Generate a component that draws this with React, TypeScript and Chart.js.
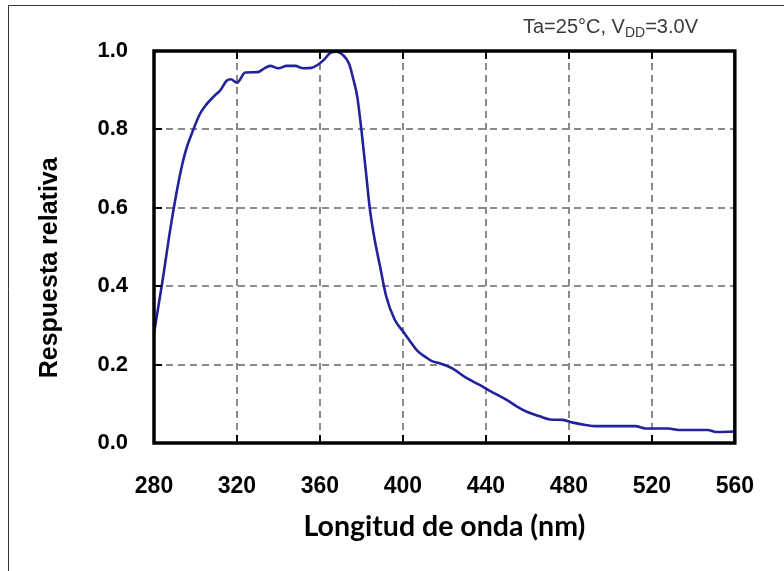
import React, { useEffect, useRef } from "react";
import { Chart, registerables } from "chart.js";

Chart.register(...registerables);

// Wavelength (nm) and relative response
const wavelengthNm = [
  280, 284, 288, 292, 295, 299, 302, 305, 309, 312, 315, 317, 320, 324, 330, 333, 336, 340, 344,
  348, 352, 356, 359, 362, 365, 368, 371, 374, 376, 378, 380, 382, 384, 386, 389, 392, 396,
  400, 403, 407, 411, 414, 418, 424, 430, 437, 443, 450, 455, 460, 466, 471, 477, 482, 488,
  493, 500, 512, 517, 528, 533, 547, 551, 560,
];
const relativeResponse = [
  0.28, 0.41, 0.55, 0.67, 0.74, 0.8, 0.838, 0.862, 0.885, 0.9, 0.924, 0.928, 0.919, 0.945, 0.946,
  0.955, 0.962, 0.956, 0.962, 0.962, 0.956, 0.957, 0.965, 0.978, 0.995, 0.998, 0.99, 0.968,
  0.93, 0.883, 0.798, 0.7, 0.6, 0.53, 0.45, 0.373, 0.315, 0.285, 0.263, 0.235, 0.219, 0.209,
  0.203, 0.19, 0.168, 0.148, 0.13, 0.11, 0.093, 0.079, 0.068, 0.06, 0.059, 0.052, 0.046,
  0.043, 0.043, 0.043, 0.037, 0.037, 0.033, 0.033, 0.028, 0.029,
];
const xTickValues = [280, 320, 360, 400, 440, 480, 520, 560];
const yTickValues = [0, 0.2, 0.4, 0.6, 0.8, 1.0];
const xAxisTitle = "Longitud de onda (nm)";
const yAxisTitle = "Respuesta relativa";
const conditionParts = ["Ta=25°C, V", "DD", "=3.0V"];

const ARIAL = "'Liberation Sans', Arial, sans-serif";

export default function App() {
  const canvasRef = useRef<HTMLCanvasElement>(null);

  useEffect(() => {
    const canvas = canvasRef.current;
    if (!canvas) return;

    const framePlugin = {
      id: "framePlugin",
      afterDraw(chart: any) {
        const { ctx, chartArea, scales } = chart;
        const { left, right, top, bottom } = chartArea;
        const xs = scales.x;
        const ys = scales.y;
        ctx.save();
        // outer picture border (left and top)
        ctx.strokeStyle = "#333";
        ctx.lineWidth = 1;
        ctx.beginPath();
        ctx.moveTo(8.5, 600);
        ctx.lineTo(8.5, 5.5);
        ctx.lineTo(800, 5.5);
        ctx.stroke();
        // inward tick marks
        ctx.strokeStyle = "#000";
        ctx.lineWidth = 2;
        ctx.beginPath();
        xTickValues.slice(1, -1).forEach((v) => {
          const px = Math.round(xs.getPixelForValue(v));
          ctx.moveTo(px, bottom);
          ctx.lineTo(px, bottom - 8);
          ctx.moveTo(px, top);
          ctx.lineTo(px, top + 8);
        });
        yTickValues.slice(1, -1).forEach((v) => {
          const py = Math.round(ys.getPixelForValue(v));
          ctx.moveTo(left, py);
          ctx.lineTo(left + 8, py);
        });
        ctx.stroke();
        // plot frame
        ctx.lineWidth = 3.5;
        ctx.strokeRect(left, top, right - left, bottom - top);
        // condition annotation
        ctx.fillStyle = "#3a3a3a";
        ctx.textBaseline = "alphabetic";
        ctx.textAlign = "left";
        let tx = 523;
        const ty = 33;
        ctx.font = `20px ${ARIAL}`;
        ctx.fillText(conditionParts[0], tx, ty);
        tx += ctx.measureText(conditionParts[0]).width;
        ctx.font = `14px ${ARIAL}`;
        ctx.fillText(conditionParts[1], tx, ty + 4);
        tx += ctx.measureText(conditionParts[1]).width;
        ctx.font = `20px ${ARIAL}`;
        ctx.fillText(conditionParts[2], tx, ty);
        ctx.restore();
      },
    };

    const chart = new Chart(canvas, {
      type: "line",
      data: {
        datasets: [
          {
            data: wavelengthNm.map((x, i) => ({ x, y: relativeResponse[i] })),
            borderColor: "#22229a",
            borderWidth: 2.6,
            pointRadius: 0,
            cubicInterpolationMode: "monotone",
            fill: false,
          },
        ],
      },
      options: {
        animation: false,
        responsive: false,
        maintainAspectRatio: false,
        layout: { padding: { top: 51, right: 47, left: 0, bottom: 0 } },
        plugins: { legend: { display: false }, tooltip: { enabled: false } },
        scales: {
          x: {
            type: "linear",
            min: 280,
            max: 560,
            afterBuildTicks: (scale: any) => {
              scale.ticks = xTickValues.map((value) => ({ value }));
            },
            afterFit: (scale: any) => {
              scale.height = 128;
            },
            ticks: {
              padding: 30,
              color: "#000",
              font: { family: ARIAL, weight: "bold", size: 23 },
              maxRotation: 0,
              autoSkip: false,
              callback: (v: any) => String(v),
            },
            grid: {
              drawTicks: false,
              color: "#8a8a8a",
              lineWidth: 2,
            },
            border: { display: false, dash: [7, 5] },
            title: {
              display: true,
              text: xAxisTitle,
              color: "#000",
              font: { family: "Lato, 'Open Sans', sans-serif", weight: "bold", size: 28.5 },
              padding: { top: 0, bottom: 27 },
            },
          },
          y: {
            type: "linear",
            min: 0,
            max: 1,
            afterBuildTicks: (scale: any) => {
              scale.ticks = yTickValues.map((value) => ({ value }));
            },
            afterFit: (scale: any) => {
              scale.width = 154;
            },
            ticks: {
              padding: 26,
              color: "#000",
              font: { family: ARIAL, weight: "bold", size: 22 },
              callback: (v: any) => Number(v).toFixed(1),
            },
            grid: {
              drawTicks: false,
              color: "#8a8a8a",
              lineWidth: 2,
            },
            border: { display: false, dash: [7, 5] },
            title: {
              display: true,
              text: yAxisTitle + "      ",
              color: "#000",
              font: { family: ARIAL, weight: "bold", size: 25 },
              padding: { top: 35, bottom: 0 },
            },
          },
        },
      },
      plugins: [framePlugin],
    } as any);

    return () => chart.destroy();
  }, []);

  return (
    <div style={{ position: "absolute", left: 0, top: 0, width: 784, height: 571, background: "#fff" }}>
      <canvas ref={canvasRef} width={784} height={571} />
    </div>
  );
}
